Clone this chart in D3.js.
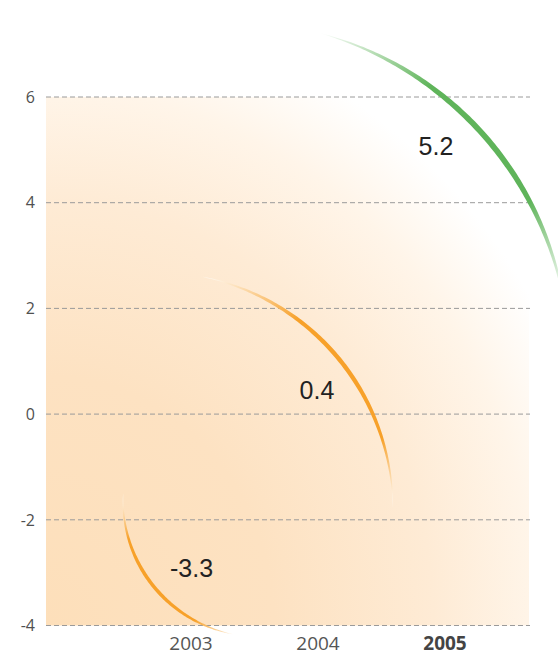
<!DOCTYPE html>
<html>
<head>
<meta charset="utf-8">
<script src="https://cdn.jsdelivr.net/npm/d3@7"></script>
<style>
  html, body { margin: 0; padding: 0; background: #ffffff; }
  svg { display: block; }
</style>
</head>
<body>
<div id="chart"></div>
<script>
// ---- data ----
const years = [2003, 2004, 2005];
const values = [-3.3, 0.4, 5.2];
const yTicks = [-4, -2, 0, 2, 4, 6];
const highlightYear = 2005;

// ---- layout ----
const W = 558, H = 655;
const svg = d3.select("#chart").append("svg")
  .attr("width", W).attr("height", H);

const x = d3.scalePoint().domain(years).range([191, 445]);
const y = d3.scaleLinear().domain([-4, 6]).range([625.5, 97]);
const plotLeft = 46, plotRight = 530;

const defs = svg.append("defs");

// background radial wash
const bg = defs.append("radialGradient")
  .attr("id", "bgGrad")
  .attr("cx", 0).attr("cy", 1).attr("r", 1.18)
  .attr("fx", 0).attr("fy", 1);
[[0, "#fddfba"], [0.4, "#fde2c2"], [0.68, "#feebd5"], [0.86, "#fff5e9"], [1, "#ffffff"]]
  .forEach(([o, c]) => bg.append("stop").attr("offset", o).attr("stop-color", c));

svg.append("rect")
  .attr("x", plotLeft).attr("y", y(6))
  .attr("width", 529 - plotLeft).attr("height", y(-4) - y(6))
  .attr("fill", "url(#bgGrad)");

// grid lines
svg.append("g").selectAll("line").data(yTicks).join("line")
  .attr("x1", plotLeft).attr("x2", plotRight)
  .attr("y1", d => y(d)).attr("y2", d => y(d))
  .attr("stroke", "#9a9a9a").attr("stroke-width", 1)
  .attr("stroke-dasharray", "5,3");

// y axis labels
svg.append("g").selectAll("text").data(yTicks).join("text")
  .attr("x", 35).attr("y", d => y(d))
  .attr("dy", "0.36em")
  .attr("text-anchor", "end")
  .attr("font-family", "'Open Sans', 'Noto Sans', sans-serif")
  .attr("font-size", 16)
  .attr("fill", "#505050")
  .text(d => String(d));

// x axis labels
svg.append("g").selectAll("text").data(years).join("text")
  .attr("x", d => x(d)).attr("y", 650)
  .attr("text-anchor", "middle")
  .attr("font-family", "'Open Sans', 'Noto Sans', sans-serif")
  .attr("font-size", 19)
  .attr("font-weight", d => d === highlightYear ? "bold" : "normal")
  .attr("fill", d => d === highlightYear ? "#444" : "#555")
  .text(d => d);

// crescent arcs (decorative geometry relative to each data point)
const arcGeom = [
  { dx: 69,   dy: -88.5, r: 137, a0: 3.33,  a1: 4.76, t: 3.6, color: "#f7a12a", stops: [[0, 0.1], [0.2, 1], [0.78, 1], [1, 0]] },
  { dx: -163, dy: 117,   r: 238, a0: 0.19,  a1: 1.56, t: 4.4, color: "#f7a12a", stops: [[0, 0], [0.32, 1], [0.8, 1], [1, 0]] },
  { dx: -215, dy: 220.7, r: 339, a0: 0.265, a1: 1.45, t: 5.8, color: "#5fb45a", stops: [[0, 0], [0.3, 1], [0.7, 1], [0.95, 0]] }
];

const arcsG = svg.append("g");
years.forEach((yr, i) => {
  const g = arcGeom[i];
  const cx = x(yr) + g.dx, cy = y(values[i]) + g.dy;
  const pt = (a, R) => [cx + R * Math.sin(a), cy - R * Math.cos(a)];
  const N = 120;
  const outer = [], inner = [];
  for (let k = 0; k <= N; k++) {
    const u = k / N;
    const a = g.a0 + (g.a1 - g.a0) * u;
    const th = g.t * Math.pow(Math.sin(Math.PI * u), 0.9);
    outer.push(pt(a, g.r + th / 2));
    inner.push(pt(a, g.r - th / 2));
  }
  const poly = outer.concat(inner.reverse());
  const p0 = pt(g.a0, g.r), p1 = pt(g.a1, g.r);
  const gid = "arcGrad" + i;
  const lg = defs.append("linearGradient").attr("id", gid)
    .attr("gradientUnits", "userSpaceOnUse")
    .attr("x1", p0[0]).attr("y1", p0[1]).attr("x2", p1[0]).attr("y2", p1[1]);
  g.stops.forEach(([o, m]) => {
    const c = d3.interpolateRgb("#ffffff", g.color)(m);
    lg.append("stop").attr("offset", o).attr("stop-color", c);
  });
  arcsG.append("path")
    .attr("d", d3.line()(poly) + "Z")
    .attr("fill", `url(#${gid})`);
});

// value labels
const labelNudge = [[0.5, -11.5], [-1, 6], [-9, 15.7]];
svg.append("g").selectAll("text").data(years).join("text")
  .attr("x", (d, i) => x(d) + labelNudge[i][0])
  .attr("y", (d, i) => y(values[i]) + labelNudge[i][1])
  .attr("text-anchor", "middle")
  .attr("font-family", "'Liberation Sans Narrow', 'Arial Narrow', 'Liberation Sans', sans-serif")
  .attr("font-size", 25)
  .attr("fill", "#222")
  .text((d, i) => String(values[i]));
</script>
</body>
</html>
